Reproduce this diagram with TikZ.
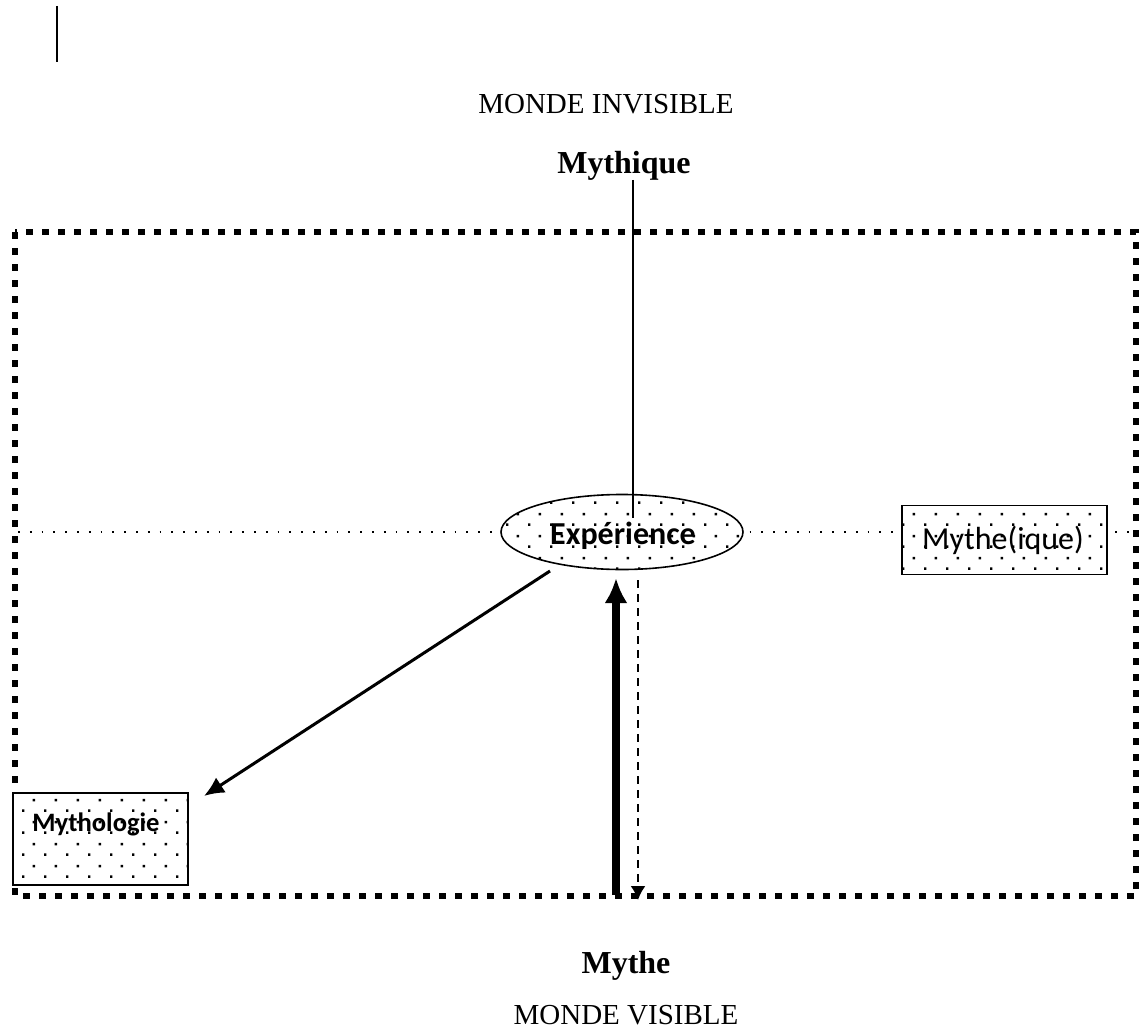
\documentclass[tikz,border=0pt]{standalone}
\usepackage{fontspec}
\setmainfont{Liberation Serif}
\newfontfamily\calib{Carlito}
\usetikzlibrary{shapes.geometric,patterns,arrows.meta}

% staggered sparse dot fill
\pgfdeclarepatternformonly{sparsedots}{\pgfqpoint{0pt}{0pt}}{\pgfqpoint{11pt}{11pt}}{\pgfqpoint{11pt}{11pt}}{%
  \pgfpathrectangle{\pgfqpoint{0pt}{0pt}}{\pgfqpoint{1.3pt}{1.3pt}}%
  \pgfpathrectangle{\pgfqpoint{5.5pt}{5.5pt}}{\pgfqpoint{1.3pt}{1.3pt}}%
  \pgfusepath{fill}}

\tikzset{
  title/.style={font=\fontsize{14.5}{17}\selectfont, inner sep=0pt},
  boldtitle/.style={font=\fontsize{16}{19}\selectfont\bfseries, inner sep=0pt},
  dotted box/.style={draw, line width=0.8pt, fill=white, postaction={pattern=sparsedots}, inner sep=0pt},
  frameline/.style={line width=3pt, dash pattern=on 3.5pt off 4.5pt},
  axisline/.style={line width=0.9pt, dash pattern=on 0.9pt off 5pt},
  thinarrow/.style={line width=1.5pt, -{Latex[length=10pt,width=9pt]}},
  thickarrow/.style={line width=4pt, -{Latex[length=12.5pt,width=11.5pt]}},
  dasharrow/.style={line width=1pt, dash pattern=on 4pt off 3pt, -{Latex[length=7pt,width=7.5pt]}},
}

\begin{document}
\begin{tikzpicture}[x=0.5pt, y=-0.5pt]
\useasboundingbox (0,0) rectangle (1139,1032);

% small mark at the top left
\coordinate (marka) at (57,6);
\coordinate (markb) at (57,62);
\draw[line width=1pt] (marka) -- (markb);

% titles
\node[title] (invisible) at (606,104) {MONDE INVISIBLE};
\node[boldtitle] (mythique) at (624,166) {Mythique};
\node[boldtitle] (mythe) at (626,966) {Mythe};
\node[title] (visible) at (626,1015) {MONDE VISIBLE};

% horizontal axis
\coordinate (axl) at (18,532);
\coordinate (axr) at (1136,532);
\draw[axisline] (axl) -- (axr);

% outer frame
\coordinate (frnw) at (15,232);
\coordinate (frse) at (1136,896);
\draw[frameline] (frnw) rectangle (frse);

% nodes
\node[dotted box, ellipse, minimum width=121pt, minimum height=37.5pt] (exp) at (622,532) {};
\node[font=\calib\fontsize{16}{19}\selectfont\bfseries, inner sep=0pt] (exptxt) at (623,536) {Expérience};

\node[dotted box, minimum width=102.5pt, minimum height=34.5pt] (mytheique) at (1004.5,540) {};
\node[font=\calib\fontsize{16}{19}\selectfont, inner sep=0pt] (mytheiquetxt) at (1003,540) {Mythe(ique)};

\node[dotted box, minimum width=87.5pt, minimum height=46pt] (mythologie) at (100.5,839) {};
\node[font=\calib\fontsize{13.3}{16}\selectfont\bfseries, inner sep=0pt] (mythologietxt) at (96,824) {Mythologie};

% vertical line from Mythique into the ellipse
\coordinate (vtop) at (633,180);
\coordinate (vbot) at (633,518);
\draw[line width=1pt] (vtop) -- (vbot);

% arrows
\coordinate (a1s) at (550,571);
\coordinate (a1e) at (204,796);
\draw[thinarrow] (a1s) -- (a1e);

\coordinate (a2s) at (616,895);
\coordinate (a2e) at (616,578);
\draw[thickarrow] (a2s) -- (a2e);

\coordinate (a3s) at (638,580);
\coordinate (a3e) at (638,900);
\draw[dasharrow] (a3s) -- (a3e);
\end{tikzpicture}
\end{document}
